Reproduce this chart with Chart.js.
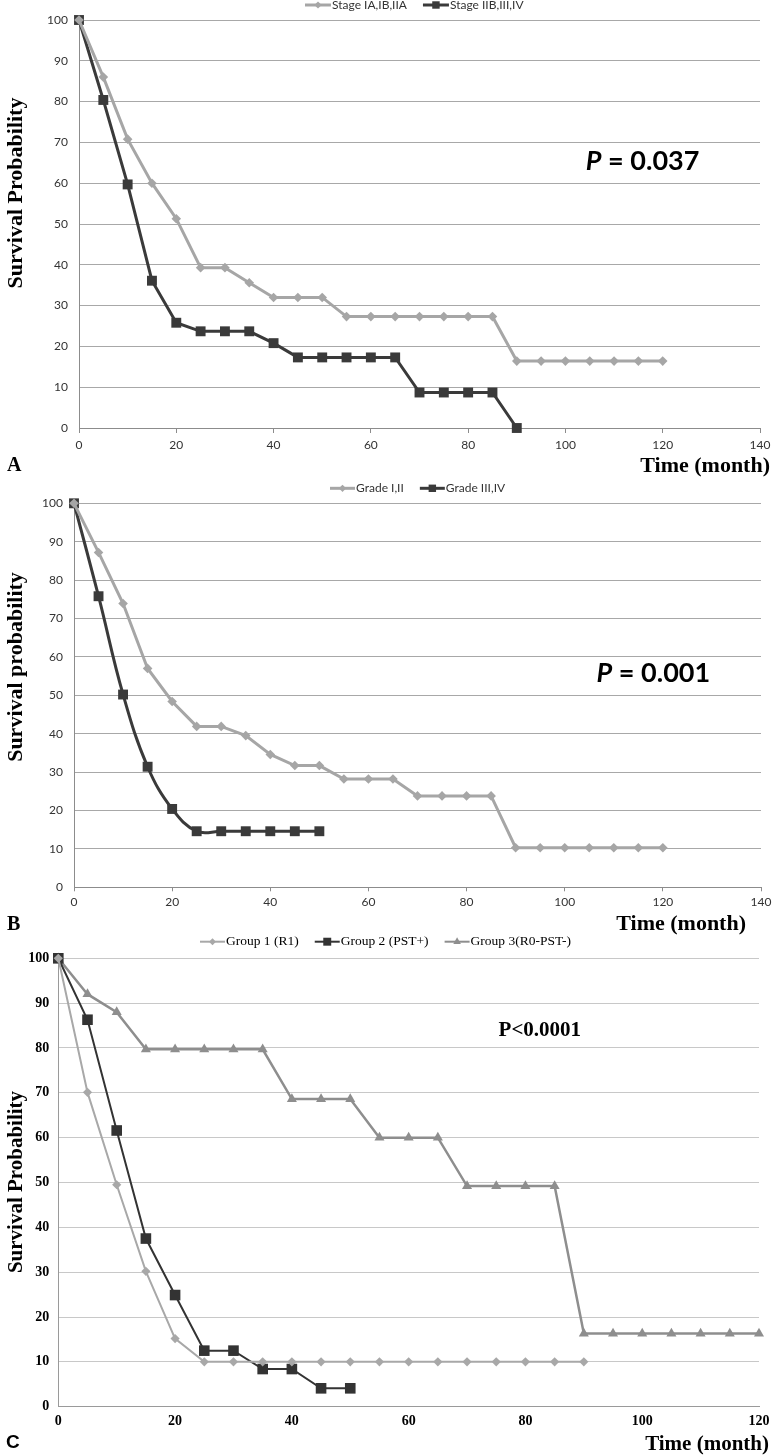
<!DOCTYPE html>
<html>
<head>
<meta charset="utf-8">
<script src="https://cdn.jsdelivr.net/npm/chart.js@4.4.1/dist/chart.umd.min.js"></script>
<style>
  html, body { margin: 0; padding: 0; background: #fff; }
  #page { position: relative; width: 776px; height: 1455px; overflow: hidden; }
  canvas { position: absolute; left: 0; }
</style>
</head>
<body>
<div id="page">
  <canvas id="chartA" width="776" height="480" style="top:0px"></canvas>
  <canvas id="chartB" width="776" height="466" style="top:476px"></canvas>
  <canvas id="chartC" width="776" height="525" style="top:930px"></canvas>
</div>
<script>
// months (x values), 5-month steps
const months = [0, 5, 10, 15, 20, 25, 30, 35, 40, 45, 50, 55, 60, 65, 70, 75, 80, 85, 90, 95, 100, 105, 110, 115, 120];

// Panel A - stage
const stageEarly = [100, 86, 70.8, 60, 51.3, 39.3, 39.3, 35.6, 32, 32, 32, 27.3, 27.3, 27.3, 27.3, 27.3, 27.3, 27.3, 16.4, 16.4, 16.4, 16.4, 16.4, 16.4, 16.4];
const stageLate = [100, 80.4, 59.7, 36.1, 25.8, 23.7, 23.7, 23.7, 20.8, 17.3, 17.3, 17.3, 17.3, 17.3, 8.7, 8.7, 8.7, 8.7, 0];

// Panel B - grade
const gradeLow = [100, 87.2, 73.9, 57, 48.4, 41.9, 41.9, 39.5, 34.6, 31.7, 31.7, 28.2, 28.2, 28.2, 23.8, 23.8, 23.8, 23.8, 10.3, 10.3, 10.3, 10.3, 10.3, 10.3, 10.3];
const gradeHigh = [100, 75.8, 50.2, 31.4, 20.4, 14.6, 14.6, 14.6, 14.6, 14.6, 14.6];

// Panel C - groups
const group1 = [100, 70.1, 49.5, 30.2, 15.2, 10, 10, 10, 10, 10, 10, 10, 10, 10, 10, 10, 10, 10, 10];
const group2 = [100, 86.3, 61.6, 37.5, 24.9, 12.5, 12.5, 8.4, 8.4, 4.1, 4.1];
const group3 = [100, 92, 88, 79.7, 79.7, 79.7, 79.7, 79.7, 68.6, 68.6, 68.6, 60, 60, 60, 49.2, 49.2, 49.2, 49.2, 16.3, 16.3, 16.3, 16.3, 16.3, 16.3, 16.3];

const labelsA = ['Stage IA,IB,IIA', 'Stage IIB,III,IV'];
const labelsB = ['Grade I,II', 'Grade III,IV'];
const labelsC = ['Group 1 (R1)', 'Group 2 (PST+)', 'Group 3(R0-PST-)'];

function pts(values) {
    return values.map((v, i) => ({ x: months[i], y: v }));
}

// free text drawn on top of the chart (titles, letters, p-values)
const overlay = {
    id: 'overlay',
    afterDraw(chart, args, opts) {
        const ctx = chart.ctx;
        (opts.items || []).forEach(it => {
            ctx.save();
            let x = it.x, y = it.y;
            if (it.dataX !== undefined) {
                x = chart.scales.x.getPixelForValue(it.dataX);
                y = chart.scales.y.getPixelForValue(it.dataY);
            }
            ctx.translate(x, y);
            if (it.rotate) ctx.rotate(it.rotate);
            ctx.fillStyle = it.color || '#000';
            ctx.textBaseline = it.baseline || 'alphabetic';
            ctx.textAlign = 'left';
            const parts = it.parts || [{ text: it.text, font: it.font }];
            let total = 0;
            parts.forEach(p => { ctx.font = p.font; p.w = ctx.measureText(p.text).width; total += p.w; });
            let cx = it.align === 'right' ? -total : (it.align === 'center' ? -total / 2 : 0);
            parts.forEach(p => { ctx.font = p.font; ctx.fillText(p.text, cx, 0); cx += p.w; });
            ctx.restore();
        });
    }
};

// Excel-like legend: line with marker, then label
const lineLegend = {
    id: 'lineLegend',
    afterDraw(chart, args, opts) {
        if (!opts || opts.x === undefined) return;
        const ctx = chart.ctx;
        let x = opts.x;
        const y = opts.y;
        chart.data.datasets.forEach(ds => {
            ctx.save();
            ctx.strokeStyle = ds.borderColor;
            ctx.lineWidth = opts.lineWidth || 2;
            ctx.beginPath();
            ctx.moveTo(x, y);
            ctx.lineTo(x + opts.lineLen, y);
            ctx.stroke();
            ctx.fillStyle = ds.pointBackgroundColor;
            if (window.Chart && Chart.helpers && Chart.helpers.drawPoint) {
                Chart.helpers.drawPoint(ctx, {
                    pointStyle: ds.pointStyle,
                    radius: ds.pointRadius * opts.markerScale,
                    borderWidth: 0,
                    rotation: 0
                }, x + opts.lineLen / 2, y);
            }
            ctx.font = opts.font;
            ctx.fillStyle = opts.color || '#000';
            ctx.textBaseline = 'middle';
            ctx.textAlign = 'left';
            ctx.fillText(ds.label, x + opts.lineLen + 1, y);
            x += opts.lineLen + 1 + ctx.measureText(ds.label).width + opts.gap;
            ctx.restore();
        });
    }
};

function series(label, values, color, style, radius, width, tension) {
    return {
        label: label,
        data: pts(values),
        borderColor: color,
        backgroundColor: color,
        pointBackgroundColor: color,
        pointBorderColor: color,
        pointBorderWidth: 0,
        pointStyle: style,
        pointRadius: radius,
        borderWidth: width,
        tension: tension,
        clip: false,
        fill: false
    };
}

function makeChart(id, cfg) {
    const ctx = document.getElementById(id).getContext('2d');
    return new Chart(ctx, {
        type: 'line',
        data: { datasets: cfg.datasets },
        plugins: [overlay, lineLegend],
        options: {
            responsive: false,
            animation: false,
            layout: { padding: cfg.padding },
            events: [],
            scales: {
                x: {
                    type: 'linear',
                    min: 0,
                    max: cfg.xMax,
                    afterFit: s => { s.height = cfg.xHeight; },
                    ticks: {
                        stepSize: 20,
                        color: cfg.tickColor,
                        font: cfg.tickFont,
                        padding: cfg.xTickPad,
                        maxRotation: 0
                    },
                    grid: {
                        drawOnChartArea: false,
                        drawTicks: cfg.xTickLen > 0,
                        tickLength: cfg.xTickLen,
                        color: cfg.axisColor
                    },
                    border: { display: true, color: cfg.axisColor, width: 1 }
                },
                y: {
                    min: 0,
                    max: 100,
                    afterFit: s => { s.width = cfg.yWidth; },
                    ticks: {
                        stepSize: 10,
                        color: cfg.tickColor,
                        font: cfg.tickFont,
                        padding: cfg.yTickPad
                    },
                    grid: {
                        drawTicks: false,
                        color: cfg.gridColor,
                        lineWidth: 1
                    },
                    border: { display: true, color: cfg.axisColor, width: 1 }
                }
            },
            plugins: {
                legend: { display: false },
                tooltip: { enabled: false },
                overlay: { items: cfg.texts },
                lineLegend: cfg.legend
            }
        }
    });
}

const serifBold = s => 'bold ' + s + 'px "Liberation Serif", "Times New Roman", serif';
const LIGHT = '#a6a6a6';
const DARK = '#3a3a3a';

// Panel A
makeChart('chartA', {
    datasets: [
        series(labelsA[0], stageEarly, LIGHT, 'rectRot', 4.8, 3, 0),
        series(labelsA[1], stageLate, DARK, 'rect', 7, 3, 0)
    ],
    padding: { left: 0, right: 16, top: 20, bottom: 0 },
    xMax: 140, xHeight: 52, yWidth: 79,
    xTickLen: 5, xTickPad: 5, yTickPad: 11,
    tickColor: '#333', tickFont: { family: 'Lato', size: 12 },
    gridColor: '#a8a8a8', axisColor: '#8c8c8c',
    legend: { x: 305, y: 5, lineLen: 26, gap: 16, markerScale: 0.75, lineWidth: 3, font: '12px Lato', color: '#333' },
    texts: [
        { text: 'Survival Probability', font: serifBold(22), x: 22, y: 193, rotate: -Math.PI / 2, align: 'center' },
        { text: 'Time (month)', font: serifBold(22), x: 770, y: 472, align: 'right' },
        { text: 'A', font: serifBold(20), x: 7, y: 471 },
        { parts: [ { text: 'P', font: 'italic bold 27px Lato' }, { text: ' = 0.037', font: 'bold 27px Lato' } ],
          dataX: 104.2, dataY: 65.4, baseline: 'middle' }
    ]
});

// Panel B
makeChart('chartB', {
    datasets: [
        series(labelsB[0], gradeLow, LIGHT, 'rectRot', 4.8, 3, 0),
        series(labelsB[1], gradeHigh, DARK, 'rect', 7, 3, 0.4)
    ],
    padding: { left: 0, right: 15, top: 27.3, bottom: 0 },
    xMax: 140, xHeight: 54.7, yWidth: 74,
    xTickLen: 4, xTickPad: 4, yTickPad: 11,
    tickColor: '#333', tickFont: { family: 'Lato', size: 12 },
    gridColor: '#a8a8a8', axisColor: '#8c8c8c',
    legend: { x: 330, y: 12.3, lineLen: 25, gap: 16, markerScale: 0.75, lineWidth: 3, font: '12px Lato', color: '#333' },
    texts: [
        { text: 'Survival probability', font: serifBold(22), x: 22, y: 191, rotate: -Math.PI / 2, align: 'center' },
        { text: 'Time (month)', font: serifBold(22), x: 746, y: 454, align: 'right' },
        { text: 'B', font: serifBold(20), x: 7, y: 454 },
        { parts: [ { text: 'P', font: 'italic bold 27px Lato' }, { text: ' = 0.001', font: 'bold 27px Lato' } ],
          dataX: 106.5, dataY: 55.7, baseline: 'middle' }
    ]
});

// Panel C
makeChart('chartC', {
    datasets: [
        series(labelsC[0], group1, '#a8a8a8', 'rectRot', 4.6, 2, 0),
        series(labelsC[1], group2, '#333333', 'rect', 7.5, 2, 0),
        series(labelsC[2], group3, '#8e8e8e', 'triangle', 5.8, 2.5, 0)
    ],
    padding: { left: 0, right: 16.3, top: 28.3, bottom: 0 },
    xMax: 120, xHeight: 48.3, yWidth: 58.3,
    xTickLen: 0, xTickPad: 6.5, yTickPad: 9,
    tickColor: '#000', tickFont: { family: '"Liberation Serif"', size: 14, weight: 'bold' },
    gridColor: '#c8c8c8', axisColor: '#9a9a9a',
    legend: { x: 200, y: 11.7, lineLen: 25, gap: 16, markerScale: 0.75, lineWidth: 2, font: '13.5px "Liberation Serif"', color: '#000' },
    texts: [
        { text: 'Survival Probability', font: serifBold(21), x: 22, y: 252, rotate: -Math.PI / 2, align: 'center' },
        { text: 'Time (month)', font: serifBold(21), x: 769, y: 520, align: 'right' },
        { text: 'C', font: 'bold 19px "Liberation Sans", Arial, sans-serif', x: 6, y: 518 },
        { text: 'P<0.0001', font: serifBold(21), dataX: 75.4, dataY: 83.8, baseline: 'middle' }
    ]
});
</script>
</body>
</html>
